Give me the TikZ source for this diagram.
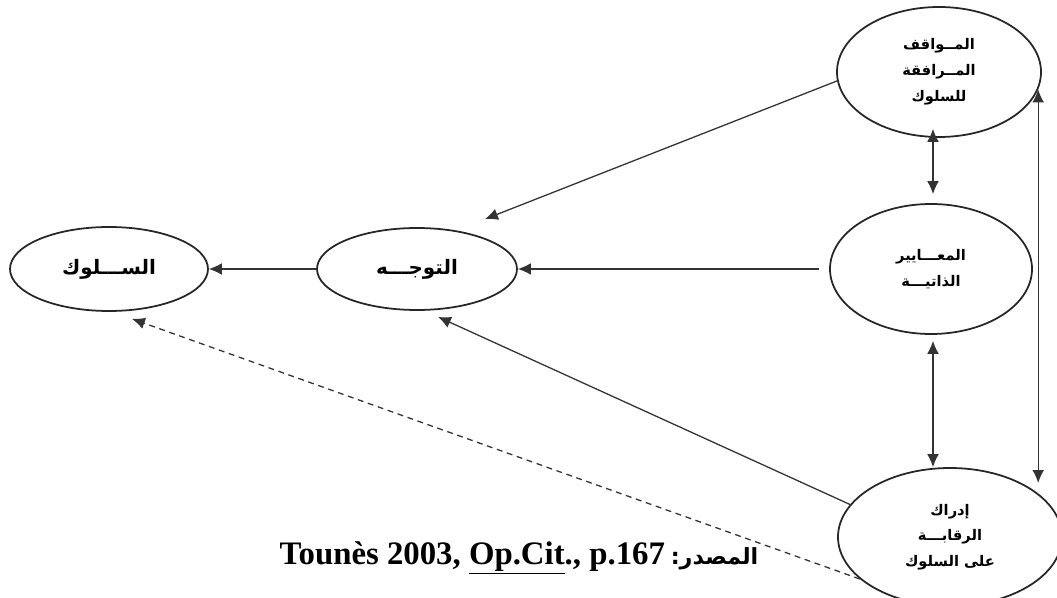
\documentclass[tikz,border=0pt]{standalone}
\usepackage{fontspec}
\setmainfont{Liberation Serif}
\newfontfamily\arabicfont[Script=Arabic]{DejaVu Sans}
\TeXXeTstate=1
\usetikzlibrary{arrows.meta,positioning,shapes.geometric}
\newcommand{\artxt}[1]{{\arabicfont\bfseries\beginR #1\endR}}

\begin{document}
\begin{tikzpicture}[x=0.03cm,y=-0.03cm,>={Latex[length=11pt,width=10pt]},
    every node/.style={align=center,inner sep=0pt},
    bubble/.style={draw,ellipse,line width=1.5pt,draw=black!85},
    big/.style={font=\fontsize{17}{20}\selectfont},
    small/.style={font=\fontsize{12.5}{22}\selectfont},
    link/.style={->,line width=1.1pt,draw=black!80}]
  \useasboundingbox (0,0) rectangle (1057,598);
  % ellipses
  \node[bubble,big,minimum width=5.94cm,minimum height=2.52cm] (sulook) at (109,269) {\artxt{الســـلوك}};
  \node[bubble,big,minimum width=6.0cm,minimum height=2.46cm] (tawajjuh) at (417,269) {\artxt{التوجـــه}};
  \node[bubble,small,minimum width=6.12cm,minimum height=3.9cm] (mawaqif) at (939,72) {
    \artxt{المــواقف}\\
    \artxt{المــرافقة}\\
    \artxt{للسلوك}
  };
  \node[bubble,small,minimum width=6.06cm,minimum height=3.9cm] (maayir) at (931,269) {
    \artxt{المعـــايير}\\
    \artxt{الذاتيـــة}
  };
  \node[bubble,small,minimum width=6.72cm,minimum height=4.14cm] (idrak) at (950,537) {
    \artxt{إدراك}\\
    \artxt{الرقابـــة}\\
    \artxt{على السلوك}
  };
  % source
  \node[font=\bfseries\fontsize{28}{32}\selectfont] (source) at (519,558)
    {\beginR{\arabicfont\fontsize{19}{24}\selectfont المصدر:}\hspace{5pt}\beginL Tounès 2003, \underline{Op.Cit}., p.167\endL\endR};
  % arrows
  \draw[link] (tawajjuh.west) -- (sulook.east);
  \draw[link] ([xshift=-0.3cm]maayir.west) -- (tawajjuh.east);
  \draw[link] (mawaqif.185) -- ([shift={(68,-8)}]tawajjuh.north);
  \draw[link] (idrak.162) -- ([shift={(21,6)}]tawajjuh.south);
  \draw[link,dash pattern=on 5pt off 4pt] (idrak.205) -- ([shift={(23,7)}]sulook.south);
  \draw[link,<->] ([shift={(-6,-9)}]mawaqif.south) -- ([shift={(2,-9)}]maayir.north);
  \draw[link,<->] ([shift={(2,6)}]maayir.south) -- ([shift={(-17,0)}]idrak.north);
  \draw[link,<->] (mawaqif.-10) -- (mawaqif.-10 |- idrak.37);
\end{tikzpicture}
\end{document}
